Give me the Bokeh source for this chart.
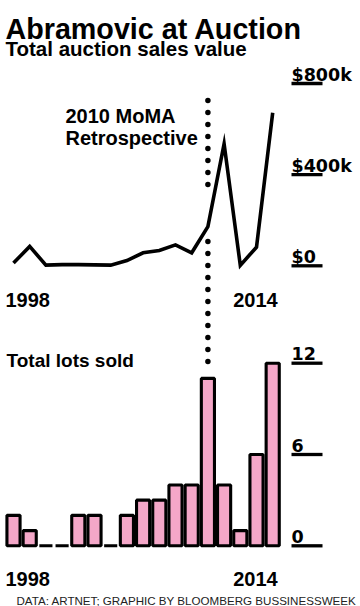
from bokeh.plotting import figure
from bokeh.models import Range1d
from bokeh.core.properties import value
from bokeh.embed import file_html
from bokeh.resources import INLINE

# ---------------- data ----------------
years = list(range(1998, 2015))
sales_k = [12, 85, 3, 5, 5, 4, 3, 23, 57, 67, 92, 57, 172, 535, 2, 82, 672]
lots = [2, 1, 0, 0, 2, 2, 0, 2, 3, 3, 4, 4, 11, 4, 1, 6, 12]

sales_ticks = [0, 400, 800]
sales_tick_labels = ["$0", "$400k", "$800k"]
lots_ticks = [0, 6, 12]
lots_tick_labels = ["0", "6", "12"]
year_first = ["1998"]
year_last = ["2014"]

title_text = "Abramovic at Auction"
subtitle_top = "Total auction sales value"
subtitle_bottom = "Total lots sold"
annotation_lines = ["2010 MoMA", "Retrospective"]
annotation_year = 2010
footer_text = "DATA: ARTNET; GRAPHIC BY BLOOMBERG BUSSINESSWEEK"

# ---------------- geometry (page pixels) ----------------
W, H = 360, 606
PX0, PX1 = 0, W
PY0, PY1 = 0, H  # top, bottom

PINK = "#f4a7c8"
BOLD = value("Liberation Sans")
TICKF = value("DejaVu Sans")


def y_range_from(page_a, val_a, page_b, val_b):
    k = (val_b - val_a) / (page_b - page_a)
    f = lambda pg: val_a + (pg - page_a) * k
    return Range1d(start=f(PY1), end=f(PY0))


def x_range_from(page_a, val_a, page_b, val_b):
    k = (val_b - val_a) / (page_b - page_a)
    f = lambda pg: val_a + (pg - page_a) * k
    return Range1d(start=f(PX0), end=f(PX1))


p = figure(width=W, height=H, title=None,
           x_range=Range1d(PX0, PX1), y_range=Range1d(PY1, PY0),
           x_axis_type=None, y_axis_type=None,
           toolbar_location=None, output_backend="svg",
           min_border=0, min_border_left=0, min_border_right=0,
           min_border_top=0, min_border_bottom=0)
p.outline_line_color = None
p.background_fill_color = "white"
p.border_fill_color = "white"

p.extra_x_ranges = {"yr": x_range_from(13.0, 1998, 13.0 + 16.2 * 16, 2014)}
p.extra_y_ranges = {
    "val": y_range_from(265.3, 0, 83.0, 800),
    "lots": y_range_from(545.3, 0, 362.7, 12),
}

# ---------------- titles ----------------
p.text(x=[5], y=[28.5], text=[title_text], text_font=BOLD, text_font_style="bold",
       text_font_size="28.7px", text_baseline="alphabetic", text_align="left", text_color="black")
p.text(x=[5], y=[48], text=[subtitle_top], text_font=BOLD, text_font_style="bold",
       text_font_size="20.5px", text_baseline="alphabetic", text_align="left", text_color="black")

# ---------------- annotation dotted line ----------------
p.line(x=[annotation_year, annotation_year], y=[100, 189], x_range_name="yr",
       line_color="black", line_width=5.5, line_dash="0 12", line_cap="round")
p.line(x=[annotation_year, annotation_year], y=[241, 362], x_range_name="yr",
       line_color="black", line_width=5.5, line_dash="0 12", line_cap="round")
p.text(x=[65, 65], y=[115, 137.5], text=annotation_lines, text_font=BOLD, text_font_style="bold",
       text_font_size="20px", text_baseline="alphabetic", text_align="left", text_color="black")

# ---------------- top chart: sales line ----------------
p.line(x=years, y=sales_k, x_range_name="yr", y_range_name="val",
       line_color="black", line_width=3.6, line_join="miter")

p.segment(x0=[291] * len(sales_ticks), x1=[322] * len(sales_ticks), y0=sales_ticks, y1=sales_ticks,
          y_range_name="val", line_color="black", line_width=3.3)
p.text(x=[291] * len(sales_ticks), y=sales_ticks, text=sales_tick_labels, y_range_name="val",
       y_offset=-8.5, text_font=TICKF, text_font_style="bold", text_font_size="17.5px",
       text_baseline="alphabetic", text_align="left", text_color="black")

p.text(x=[1998], y=[299], text=year_first, x_range_name="yr", x_offset=-8,
       text_font=BOLD, text_font_style="bold", text_font_size="20px",
       text_baseline="alphabetic", text_align="left", text_color="black")
p.text(x=[2014], y=[299], text=year_last, x_range_name="yr", x_offset=5,
       text_font=BOLD, text_font_style="bold", text_font_size="20px",
       text_baseline="alphabetic", text_align="right", text_color="black")

# ---------------- bottom chart: lots bars ----------------
p.text(x=[6], y=[360], text=[subtitle_bottom], text_font=BOLD, text_font_style="bold",
       text_font_size="19px", text_baseline="alphabetic", text_align="left", text_color="black")

p.vbar(x=years, top=lots, bottom=0, width=0.81, x_range_name="yr", y_range_name="lots",
       fill_color=PINK, line_color="black", line_width=3.1)

p.segment(x0=[291] * len(lots_ticks), x1=[322] * len(lots_ticks), y0=lots_ticks, y1=lots_ticks,
          y_range_name="lots", line_color="black", line_width=3.3)
p.text(x=[291] * len(lots_ticks), y=lots_ticks, text=lots_tick_labels, y_range_name="lots",
       y_offset=-9.5, text_font=TICKF, text_font_style="bold", text_font_size="17.5px",
       text_baseline="alphabetic", text_align="left", text_color="black")

p.text(x=[1998], y=[578], text=year_first, x_range_name="yr", x_offset=-8,
       text_font=BOLD, text_font_style="bold", text_font_size="20px",
       text_baseline="alphabetic", text_align="left", text_color="black")
p.text(x=[2014], y=[578], text=year_last, x_range_name="yr", x_offset=5,
       text_font=BOLD, text_font_style="bold", text_font_size="20px",
       text_baseline="alphabetic", text_align="right", text_color="black")

# ---------------- footer ----------------
p.text(x=[16], y=[600], text=[footer_text], text_font=value("Liberation Sans"),
       text_font_size="11.6px", text_baseline="alphabetic", text_align="left", text_color="#222222")

open("out.html", "w").write(file_html(p, INLINE))
